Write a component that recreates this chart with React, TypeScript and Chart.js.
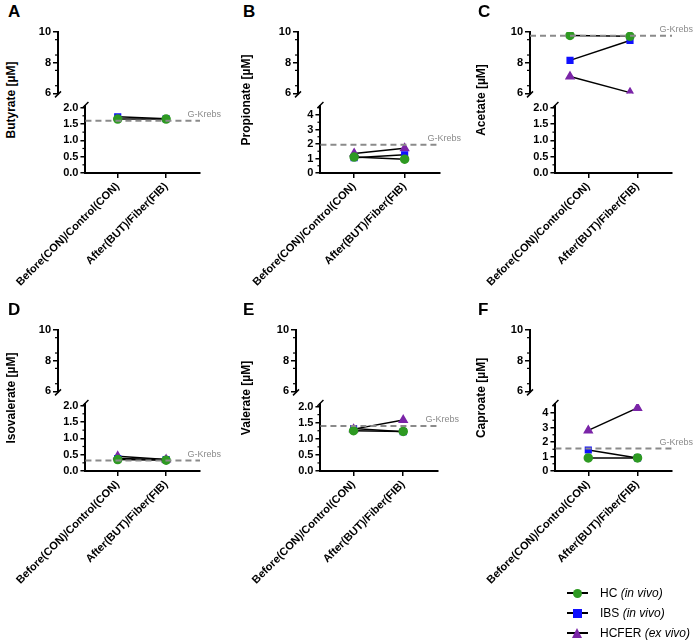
import React, { useEffect, useRef } from "react";
import { Chart, registerables } from "chart.js";
Chart.register(...registerables);

const categories = ["Before(CON)/Control(CON)", "After(BUT)/Fiber(FIB)"];
const seriesNames = ["HC", "IBS", "HCFER"];
const seriesSub = ["(in vivo)", "(in vivo)", "(ex vivo)"];
const seriesColors = ["#2e9a22", "#1010ff", "#7b25a8"];
const seriesShapes = ["circle", "rect", "triangle"];

const panelLetters = ["A", "B", "C", "D", "E", "F"];
const panelTitles = ["Butyrate [µM]", "Propionate [µM]", "Acetate [µM]", "Isovalerate [µM]", "Valerate [µM]", "Caproate [µM]"];
const hcValues = [[1.65, 1.65], [1.1, 0.95], [9.78, 9.72], [0.35, 0.33], [1.25, 1.23], [0.9, 0.9]];
const ibsValues = [[1.72, 1.66], [1.05, 1.25], [8.15, 9.45], [0.38, 0.35], [1.32, 1.22], [1.45, 0.9]];
const hcferValues = [[null, null], [1.35, 1.7], [7.1, 6.05], [0.45, 0.35], [1.3, 1.58], [2.8, 4.35]];
const krebsValues = [1.6, 1.95, 9.75, 0.32, 1.4, 1.55];
const lowerMax = [2.05, 4.62, 2.05, 2.05, 2.08, 4.62];
const lowerStep = [0.5, 1, 0.5, 0.5, 0.5, 1];
const upperRange = [6, 10];

const FONT = "'Liberation Sans', Arial, sans-serif";
const colX = [0, 235, 470];
const axisXs = [58, 298, 530, 58, 296, 530];
const PLOT_W = 142;
const RIGHT_PAD = 40;

const overlay = {
  id: "overlay",
  afterDatasetsDraw(chart: any, _a: any, opts: any) {
    const ctx = chart.ctx;
    const area = chart.chartArea;
    const y = chart.scales.y;
    ctx.save();
    const k = opts.krebs;
    if (k >= y.min && k <= y.max) {
      const py = y.getPixelForValue(k);
      ctx.strokeStyle = "#8a8a8a";
      ctx.lineWidth = 2;
      ctx.setLineDash([6, 4]);
      ctx.beginPath();
      ctx.moveTo(area.left, py);
      ctx.lineTo(area.right, py);
      ctx.stroke();
      ctx.setLineDash([]);
      ctx.fillStyle = "#8a8a8a";
      ctx.font = "9px " + FONT;
      ctx.textAlign = "right";
      ctx.textBaseline = "bottom";
      ctx.fillText("G-Krebs", area.right + 21, py - 2);
    }
    ctx.restore();
  },
  afterDraw(chart: any, _a: any, opts: any) {
    const ctx = chart.ctx;
    const area = chart.chartArea;
    const y = chart.scales.y;
    ctx.save();
    ctx.strokeStyle = "#000";
    ctx.lineWidth = 1.2;
    const step = opts.step / 2;
    for (let v = y.min; v <= y.max + 1e-9; v += step) {
      const r = Math.round(v / step);
      if (r % 2 === 1) {
        const py = y.getPixelForValue(r * step);
        ctx.beginPath();
        ctx.moveTo(area.left - 3, py);
        ctx.lineTo(area.left, py);
        ctx.stroke();
      }
    }
    const by = opts.upper ? area.bottom : area.top;
    ctx.lineWidth = 1.5;
    ctx.beginPath();
    ctx.moveTo(area.left - 3, by + (opts.upper ? 4 : 2));
    ctx.lineTo(area.left + 3, by - (opts.upper ? 2 : 4));
    ctx.stroke();
    ctx.restore();
  },
};

function makeConfig(i: number, upper: boolean, yw: number) {
  const series = [hcValues[i], ibsValues[i], hcferValues[i]];
  const isUpper = (vals: any[]) => vals.some((v) => v !== null && v >= 5);
  const datasets = series.map((vals, s) => {
    const show = upper ? isUpper(vals) : !isUpper(vals);
    return {
      label: seriesNames[s],
      data: show ? vals.map((v, j) => ({ x: j, y: v })) : [],
      borderColor: "#000",
      borderWidth: 1.5,
      backgroundColor: seriesColors[s],
      pointBackgroundColor: seriesColors[s],
      pointBorderColor: seriesColors[s],
      pointStyle: seriesShapes[s],
      pointRadius: s === 2 ? 4.5 : 4,
      showLine: true,
      spanGaps: false,
    };
  });
  const step = upper ? 1 : lowerStep[i];
  return {
    type: "scatter",
    data: { datasets },
    plugins: [overlay],
    options: {
      animation: false,
      responsive: false,
      layout: { padding: { top: 12, right: RIGHT_PAD, bottom: upper ? 6 : 0, left: 0 } },
      plugins: {
        legend: { display: false },
        tooltip: { enabled: false },
        overlay: { krebs: krebsValues[i], step, upper },
      },
      scales: {
        x: {
          type: "linear",
          min: -0.667,
          max: 1.7,
          display: !upper,
          afterBuildTicks: (sc: any) => { sc.ticks = [{ value: 0 }, { value: 1 }]; },
          afterFit: (sc: any) => { sc.height = upper ? 0 : 125; },
          ticks: {
            autoSkip: false,
            minRotation: 45,
            maxRotation: 45,
            color: "#000",
            font: { family: FONT, size: 11, weight: "bold" },
            padding: 2,
            callback: (v: any) => categories[v] ?? "",
          },
          grid: { display: true, drawOnChartArea: false, drawTicks: true, tickLength: 5, color: "#000", lineWidth: 1.5 },
          border: { display: true, color: "#000", width: 2 },
        },
        y: {
          type: "linear",
          min: upper ? upperRange[0] : 0,
          max: upper ? upperRange[1] : lowerMax[i],
          afterFit: (sc: any) => { sc.width = yw; },
          ticks: {
            stepSize: step,
            includeBounds: false,
            color: "#000",
            padding: 2,
            font: { family: FONT, size: 11, weight: "bold" },
            callback: (v: any) => (step < 1 ? Number(v).toFixed(1) : String(v)),
          },
          grid: { display: true, drawOnChartArea: false, drawTicks: true, tickLength: 5, color: "#000", lineWidth: 1.5 },
          border: { display: true, color: "#000", width: 2 },
        },
      },
    },
  };
}

function ChartCanvas({ i, upper, left, top, w, h, yw }: any) {
  const ref = useRef<HTMLCanvasElement>(null);
  useEffect(() => {
    const c = new Chart(ref.current as any, makeConfig(i, upper, yw) as any);
    return () => c.destroy();
  }, []);
  return (
    <div style={{ position: "absolute", left, top, width: w, height: h }}>
      <canvas ref={ref} width={w} height={h} style={{ width: w, height: h }} />
    </div>
  );
}

function Panel({ i }: { i: number }) {
  const row = Math.floor(i / 3);
  const col = i % 3;
  const dy = row * 298;
  const cx = colX[col];
  const yw = axisXs[i] - cx;
  const w = yw + PLOT_W + RIGHT_PAD;
  return (
    <>
      <div style={{ position: "absolute", left: cx + 8, top: 2 + dy, font: `bold 17px ${FONT}` }}>{panelLetters[i]}</div>
      <div
        style={{
          position: "absolute",
          left: cx + 14 - 80,
          top: 100 + dy - 10,
          width: 160,
          height: 20,
          lineHeight: "20px",
          textAlign: "center",
          transform: "rotate(-90deg)",
          font: `bold 12px ${FONT}`,
        }}
      >
        {panelTitles[i]}
      </div>
      <ChartCanvas i={i} upper={true} left={cx} top={20 + dy} w={w} h={12 + 64 + 6} yw={yw} />
      <ChartCanvas i={i} upper={false} left={cx} top={94 + dy} w={w} h={12 + 67 + 125} yw={yw} />
    </>
  );
}

function LegendMarker({ s }: { s: number }) {
  const c = seriesColors[s];
  let shape: any;
  if (s === 0) shape = <div style={{ position: "absolute", left: 6, top: 3, width: 9, height: 9, borderRadius: "50%", background: c }} />;
  else if (s === 1) shape = <div style={{ position: "absolute", left: 6, top: 3, width: 9, height: 9, background: c }} />;
  else shape = <div style={{ position: "absolute", left: 5, top: 2, width: 0, height: 0, borderLeft: "5.5px solid transparent", borderRight: "5.5px solid transparent", borderBottom: `10px solid ${c}` }} />;
  return (
    <div style={{ position: "relative", width: 21, height: 15, marginRight: 12 }}>
      <div style={{ position: "absolute", left: 0, top: 6.5, width: 21, height: 2, background: "#000" }} />
      {shape}
    </div>
  );
}

export default function App() {
  return (
    <div style={{ position: "absolute", left: 0, top: 0, width: 700, height: 644, background: "#fff" }}>
      {[0, 1, 2, 3, 4, 5].map((i) => <Panel key={i} i={i} />)}
      <div style={{ position: "absolute", left: 567, top: 583, font: `12px ${FONT}` }}>
        {seriesNames.map((n, s) => (
          <div key={n} style={{ display: "flex", alignItems: "center", height: 20, whiteSpace: "nowrap" }}>
            <LegendMarker s={s} />
            <span>{n} <i>{seriesSub[s]}</i></span>
          </div>
        ))}
      </div>
    </div>
  );
}
